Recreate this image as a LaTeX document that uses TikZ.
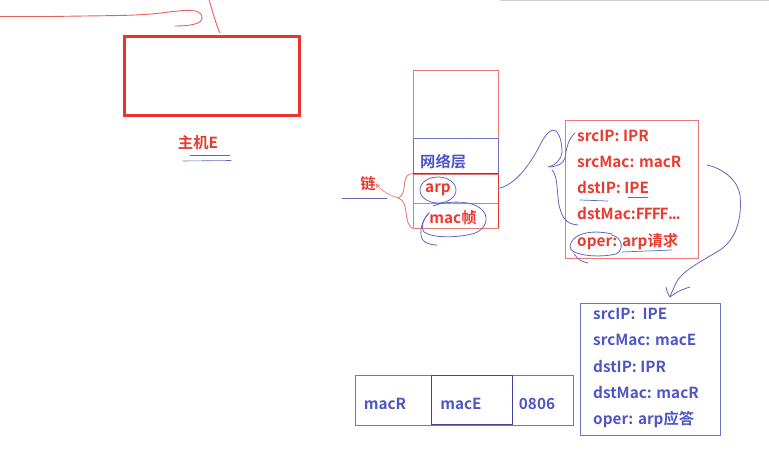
\documentclass[tikz,border=0pt]{standalone}
\usepackage{fontspec}
\setmainfont{Noto Sans CJK SC}[BoldFont={Noto Sans CJK SC Bold}]
\usetikzlibrary{arrows.meta}
\definecolor{hred}{RGB}{232,52,44}
\definecolor{tred}{RGB}{232,58,48}
\definecolor{sred}{RGB}{236,120,118}
\definecolor{lred}{RGB}{232,96,92}
\definecolor{tblue}{RGB}{78,86,196}
\definecolor{sblue}{RGB}{108,114,206}
\definecolor{pblue}{RGB}{96,104,196}
\definecolor{ppurple}{RGB}{112,56,140}
\begin{document}
\begin{tikzpicture}[x=1pt,y=-1pt,
  txt/.style={font=\fontsize{15.3}{18}\selectfont\bfseries, inner sep=0pt},
  redtxt/.style={txt, text=tred},
  bluetxt/.style={txt, text=tblue},
  pen/.style={draw=pblue, line width=0.8pt, line cap=round, line join=round},
  rpen/.style={draw=lred, line width=0.9pt, line cap=round, line join=round}]
\useasboundingbox (0,0) rectangle (769,452);

% faint top-right line
\draw[black!18, line width=1pt] (500,0.5) -- (769,0.5);

% top-left red strokes
\coordinate (s0) at (0,16.5);
\draw[rpen] (s0) -- (50,16.5) -- (120,15.5) .. controls (140,15) and (155,14) .. (165,12.5)
  .. controls (185,10) and (201,8) .. (202,17) .. controls (203,24) and (190,26) .. (175,26);
\draw[rpen] (209,0) .. controls (213,12) and (216,25) .. (220,33);

% host E
\node (host) [draw=hred, line width=3pt, minimum width=175, minimum height=78, inner sep=0] at (211.5,76) {};
\node (hostlbl) [redtxt] at (198,143) {主机E};
\draw[pen, line width=0.6pt] (190,155) -- (230,155);
\draw[pen, line width=0.6pt] (183,161) -- (231,160.5);

% protocol stack
\node (stack) [draw=sred, line width=0.7pt, minimum width=85, minimum height=158, inner sep=0] at (455.5,149) {};
\node (net) [draw=sblue, line width=0.8pt, minimum width=85, minimum height=36, inner sep=0] at (455.5,156) {};
\node (arprow) [draw=sred, line width=0.7pt, minimum width=85, minimum height=29, inner sep=0] at (455.5,188.5) {};
\node (macrow) [draw=sred, line width=0.7pt, minimum width=85, minimum height=25, inner sep=0] at (455.5,215.5) {};
\draw[ppurple, line width=0.9pt] (arprow.north west) -- (arprow.north east);
\draw[hred, line width=1.4pt] (arprow.north east) -- (macrow.south east);
\node (nettxt) [bluetxt, anchor=west] at (420,162) {网络层};
\node (arptxt) [redtxt] at (438,190) {arp};
\node (mactxt) [redtxt] at (453,218) {mac帧};

% annotations on stack
\draw[pen] (arptxt) ellipse [x radius=18, y radius=13];
\draw[pen] (433,206) .. controls (445,201) and (470,200) .. (480,208)
  .. controls (490,215) and (488,230) .. (472,234)
  .. controls (455,238) and (432,238) .. (424,232)
  .. controls (420,226) and (424,218) .. (429,213);
\draw[pen] (429,213) .. controls (420,222) and (418,238) .. (425,242) .. controls (428,244) and (433,245) .. (437,245);

% brace, 链 label
\coordinate (bracetip) at (398,198);
\draw[rpen, draw=sred] (arprow.north west) .. controls (403,173) and (405,188) .. (403,193)
  .. controls (402,196) and (400,197) .. (bracetip)
  .. controls (404,200) and (405,205) .. (406,212) .. controls (407,222) and (409,227) .. (macrow.south west);
\node (lian) [redtxt] at (368,184) {链};
\draw[rpen, draw=sred, densely dotted, -{Straight Barb[length=3pt,width=4pt]}] (bracetip) .. controls (392,196) and (384,193) .. (lian.east);
\coordinate (bl1) at (342,198);
\coordinate (bl2) at (387,198);
\draw[pen] (bl1) -- (bl2);

% ARP request box
\node (req) [draw=sred, line width=0.8pt, minimum width=133, minimum height=138, inner sep=0] at (631.5,189) {};
\node (r1) [redtxt, anchor=west] at (577,136) {srcIP: IPR};
\node (r2) [redtxt, anchor=west] at (577,162) {srcMac: macR};
\node (r3) [redtxt, anchor=west] at (577,188) {dstIP: IPE};
\node (r4) [redtxt, anchor=west] at (577,214) {dstMac:F\kern-1pt F\kern-1pt F\kern-1pt F\kern-0.5pt.\kern-1.2pt.\kern-1.2pt.};
\node (r5) [redtxt, anchor=west] at (577,242) {oper: arp请求};
\draw[pen, line width=0.7pt] (580,200) -- (608,201);
\draw[pen, line width=0.7pt] (628,197) -- (648,197);
\draw[pen, line width=0.7pt] (622,252) -- (672,250);
\draw[pen] (612,234) .. controls (590,229) and (572,234) .. (570,246)
  .. controls (569,256) and (600,258) .. (616,254)
  .. controls (624,250) and (623,238) .. (612,235);
\draw[pen] (574,254) .. controls (578,260) and (583,262) .. (588,263);

% curve from arp row to request box (brace)
\draw[pen] (arprow.east) .. controls (515,185) and (530,165) .. (540,145)
  .. controls (546,133) and (552,128) .. (556,131)
  .. controls (561,136) and (562,146) .. (562,152)
  .. controls (561,160) and (556,165) .. (548,167);
\draw[pen] (575,133) .. controls (567,140) and (566,152) .. (565,158)
  .. controls (563,164) and (558,166) .. (550,167);
\draw[pen] (552,170) .. controls (558,176) and (557,195) .. (559,205)
  .. controls (562,218) and (566,224) .. (578,225);

% curve from request box to reply box
\coordinate (ctip) at (670,297);
\draw[pen] (707,165) .. controls (722,168) and (738,180) .. (740,195)
  .. controls (742,215) and (738,238) .. (720,250)
  .. controls (700,262) and (680,272) .. (675,285) .. controls (673,290) and (671,294) .. (ctip);
\draw[pen] (666,287) .. controls (667,291) and (668,295) .. (ctip)
  .. controls (676,292) and (683,289) .. (690,287);

% ARP reply box
\node (rep) [draw=sblue, line width=0.8pt, minimum width=140, minimum height=132, inner sep=0] at (650,369) {};
\node (p1) [bluetxt, anchor=west] at (593,314) {srcIP:\ \ IPE};
\node (p2) [bluetxt, anchor=west] at (593,340) {srcMac: macE};
\node (p3) [bluetxt, anchor=west] at (593,366) {dstIP: IPR};
\node (p4) [bluetxt, anchor=west] at (593,392) {dstMac: macR};
\node (p5) [bluetxt, anchor=west] at (593,420) {oper: arp应答};

% ethernet frame header
\node (frame) [draw=sblue, line width=0.7pt, minimum width=218, minimum height=50, inner sep=0] at (464,400) {};
\node (macebox) [draw=tblue!80!black, line width=0.9pt, minimum width=81, minimum height=49, inner sep=0] at (471.5,399.5) {};
\node (f1) [bluetxt] at (385,404) {macR};
\node (f2) [bluetxt] at (461,404) {macE};
\node (f3) [bluetxt] at (537,404) {0806};
\end{tikzpicture}
\end{document}
